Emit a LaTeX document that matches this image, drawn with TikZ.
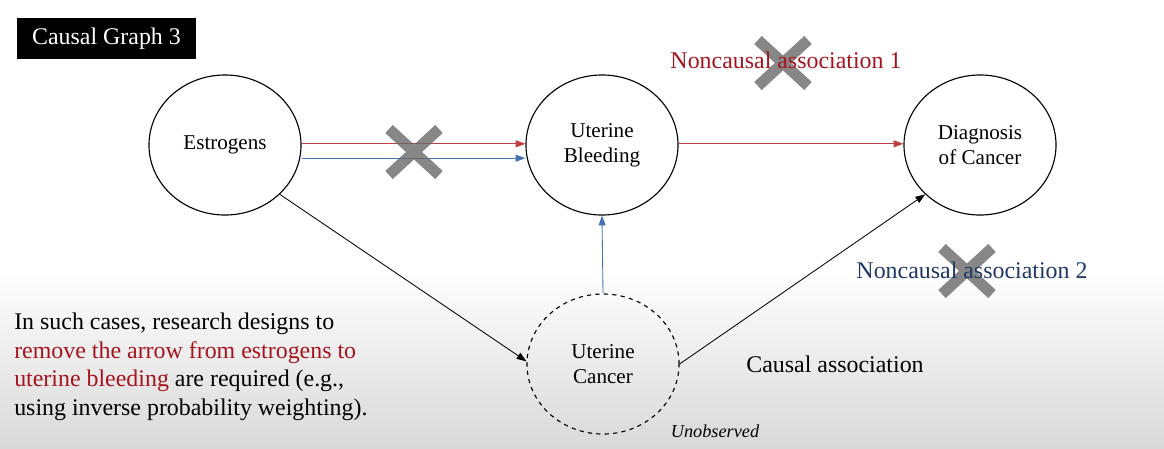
\documentclass[tikz,border=0pt]{standalone}
\usepackage{fontspec}
\setmainfont{Liberation Serif}
\usepackage{tikz}
\usetikzlibrary{arrows.meta,shapes.geometric}

\definecolor{arrred}{RGB}{192,64,64}
\definecolor{arrblue}{RGB}{68,114,176}
\definecolor{txtred}{RGB}{165,20,30}
\definecolor{txtblue}{RGB}{31,56,100}
\definecolor{xgray}{RGB}{105,105,105}

\tikzset{
	var/.style={ellipse, draw, line width=0.8pt, minimum width=3.8cm, minimum height=3.5cm,
		align=center, font=\fontsize{15}{17.8}\selectfont, inner sep=0pt},
	hidden/.style={var, dashed},
	edge/.style={line width=0.6pt, -{Triangle[length=7pt,width=5pt]}},
	xmark/.style={xgray, line width=7.8pt, opacity=0.8},
	big/.style={font=\fontsize{17}{20.3}\selectfont, inner sep=0pt}
}

\begin{document}
\begin{tikzpicture}[x=0.025cm,y=-0.025cm]
				\useasboundingbox (0,0) rectangle (1164,448);
				\shade[top color=white, bottom color=gray!30] (0,270) rectangle (1164,448);
				% title box
				\node[big, fill=black, text=white, minimum width=4.475cm, minimum height=1.025cm] (title) at (106.5,38.5) {Causal Graph 3};
				% variables
				\node[var] (est) at (225,145) {Estrogens};
				\node[var] (ub) at (602,145) {Uterine\\Bleeding};
				\node[var] (dc) at (980,145) {Diagnosis\\of Cancer};
				\node[hidden] (uc) at (603,364) {Uterine\\Cancer};
				% arrows
				\draw[edge, arrred] ([yshift=0.3mm]est.east) -- ([yshift=0.3mm]ub.west);
				\draw[edge, arrblue] ([yshift=-3.3mm]est.east) -- ([yshift=-3.3mm]ub.west);
				\draw[edge, arrred] ([yshift=0.3mm]ub.east) -- ([yshift=0.3mm]dc.west);
				\draw[edge, arrblue] (uc.north) -- (ub.south);
				\draw[edge] (est.-42) -- (uc.178);
				\draw[edge] (uc.0) -- (dc.222);
				% crosses
				\foreach \cx/\cy in {414/152, 783/63, 967/271}
					\draw[xmark] (\cx-25,\cy-23) -- (\cx+25,\cy+23) (\cx-25,\cy+23) -- (\cx+25,\cy-23);
				% labels
				\node[big, anchor=base, text=txtred] (nc1) at (786,68) {Noncausal association 1};
				\node[big, anchor=base, text=txtblue] (nc2) at (972,278) {Noncausal association 2};
				\node[big, anchor=base] (ca) at (835,372) {Causal association};
				\node[font=\fontsize{13}{15}\selectfont\itshape, anchor=base, inner sep=0pt] (unobs) at (715,437) {Unobserved};
				\node[big, anchor=north west, align=left] (note) at (14,313)
					{In such cases, research designs to\\
					\textcolor{txtred}{remove the arrow from estrogens to}\\
					\textcolor{txtred}{uterine bleeding} are required (e.g.,\\
					using inverse probability weighting).};
			\end{tikzpicture}
\end{document}
